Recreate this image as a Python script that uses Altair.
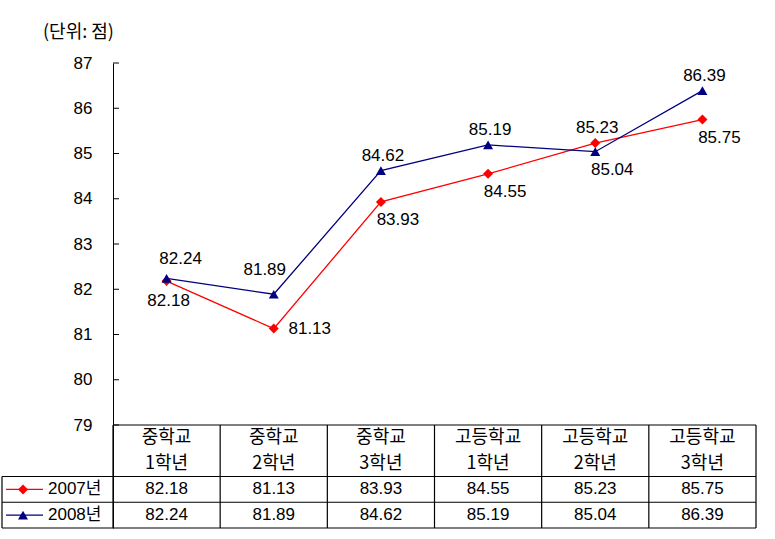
import altair as alt
import pandas as pd

# ---------------- data ----------------
CAT_LINE1 = ["중학교", "중학교", "중학교", "고등학교", "고등학교", "고등학교"]
CAT_LINE2 = ["1학년", "2학년", "3학년", "1학년", "2학년", "3학년"]
SERIES = ["2007년", "2008년"]
VALUES_2007 = [82.18, 81.13, 83.93, 84.55, 85.23, 85.75]
VALUES_2008 = [82.24, 81.89, 84.62, 85.19, 85.04, 86.39]
Y_TICKS = [79, 80, 81, 82, 83, 84, 85, 86, 87]
UNIT_TEXT = "(단위: 점)"

# label placement (style) for each point
LABEL_PLACE_2007 = ["below", "right", "below-right", "below-right", "above", "below-right"]
LABEL_PLACE_2008 = ["above-right", "above-left", "above", "above", "below-right", "above"]
PLACE_OFFSETS = {
    "above": (2, -15),
    "above-right": (14, -19),
    "above-left": (-9, -24),
    "below": (2, 20),
    "below-right": (17, 18),
    "right": (36, 0),
}

COLORS = ["#FF0000", "#000080"]
SHAPES = ["diamond", "triangle-up"]
NUM_FONT = "Liberation Sans, Noto Sans CJK KR"
KO_FONT = "Noto Sans CJK KR"
FS = 17
KO_FS = 18

# ---------------- layout ----------------
W = 643
PLOT_H = 362
TABLE_H = 103
H = PLOT_H + TABLE_H
LEGEND_W = 111
N = len(CAT_LINE1)
COL_W = W / N
Y_MIN, Y_MAX = min(Y_TICKS), max(Y_TICKS)
y_lo = Y_MIN - (Y_MAX - Y_MIN) * TABLE_H / PLOT_H
ROWS = 4  # header (2 lines) + 2 series rows
row_px = TABLE_H / ROWS
t_top = -PLOT_H / row_px
leg_units = LEGEND_W / COL_W

xscale = alt.Scale(domain=[0, N], nice=False, zero=False)
vscale = alt.Scale(domain=[y_lo, Y_MAX], nice=False, zero=False)
tscale = alt.Scale(domain=[t_top, ROWS], nice=False, zero=False, reverse=True)
cscale = alt.Scale(domain=SERIES, range=COLORS)
sscale = alt.Scale(domain=SERIES, range=SHAPES)

# ---------------- line chart part ----------------
pts = pd.DataFrame({
    "x": [i + 0.5 for i in range(N)] * 2,
    "value": VALUES_2007 + VALUES_2008,
    "series": [SERIES[0]] * N + [SERIES[1]] * N,
    "place": LABEL_PLACE_2007 + LABEL_PLACE_2008,
})

base = alt.Chart(pts).encode(
    x=alt.X("x:Q", scale=xscale, axis=None),
    y=alt.Y("value:Q", scale=vscale, title=None,
            axis=alt.Axis(values=Y_TICKS, grid=False, ticks=False, tickSize=0,
                          labelPadding=21, labelFont=NUM_FONT, labelFontSize=FS,
                          labelColor="black", domainColor="black", domainWidth=1)),
)

lines = base.mark_line(strokeWidth=1.3).encode(
    color=alt.Color("series:N", scale=cscale, legend=None),
    detail="series:N",
)
points = base.mark_point(filled=True, opacity=1, size=100).encode(
    color=alt.Color("series:N", scale=cscale, legend=None),
    shape=alt.Shape("series:N", scale=sscale, legend=None),
)

label_layers = []
for name, (dx, dy) in PLACE_OFFSETS.items():
    label_layers.append(
        base.transform_filter(alt.datum.place == name)
        .mark_text(dx=dx, dy=dy, font=NUM_FONT, fontSize=FS, color="black",
                   baseline="middle", align="center")
        .encode(text=alt.Text("value:Q", format=".2f"))
    )

tick_df = pd.DataFrame({"value": Y_TICKS})
inner_ticks = alt.Chart(tick_df).mark_rule(color="black", strokeWidth=1).encode(
    y=alt.Y("value:Q", scale=vscale),
    x=alt.value(0), x2=alt.value(6),
)

unit_title = alt.Chart(pd.DataFrame({"t": [UNIT_TEXT]})).mark_text(
    align="left", baseline="middle", font=KO_FONT, fontSize=KO_FS, color="black"
).encode(text="t:N", x=alt.value(-70), y=alt.value(-30))

value_part = alt.layer(lines, points, *label_layers, inner_ticks, unit_title)

# ---------------- data table part ----------------
seg = []
seg.append({"x": 0, "x2": N, "y": 0, "y2": 0})
for r in [2, 3, 4]:
    seg.append({"x": -leg_units, "x2": N, "y": r, "y2": r})
for c in range(N + 1):
    seg.append({"x": c, "x2": c, "y": 0, "y2": ROWS})
seg.append({"x": -leg_units, "x2": -leg_units, "y": 2, "y2": ROWS})
grid = alt.Chart(pd.DataFrame(seg)).mark_rule(color="black", strokeWidth=1.2).encode(
    x=alt.X("x:Q", scale=xscale, axis=None),
    x2="x2:Q",
    y=alt.Y("y:Q", scale=tscale, axis=None),
    y2="y2:Q",
)

head = []
for i in range(N):
    head.append({"x": i + 0.5, "y": 0.5, "t": CAT_LINE1[i]})
    head.append({"x": i + 0.5, "y": 1.5, "t": CAT_LINE2[i]})
head_text = alt.Chart(pd.DataFrame(head)).mark_text(
    font=KO_FONT, fontSize=KO_FS, color="black", baseline="middle", align="center"
).encode(
    x=alt.X("x:Q", scale=xscale, axis=None),
    y=alt.Y("y:Q", scale=tscale, axis=None),
    text="t:N",
)

cells = []
for i in range(N):
    cells.append({"x": i + 0.5, "y": 2.5, "t": f"{VALUES_2007[i]:.2f}"})
    cells.append({"x": i + 0.5, "y": 3.5, "t": f"{VALUES_2008[i]:.2f}"})
cell_text = alt.Chart(pd.DataFrame(cells)).mark_text(
    font=NUM_FONT, fontSize=FS, color="black", baseline="middle", align="center"
).encode(
    x=alt.X("x:Q", scale=xscale, axis=None),
    y=alt.Y("y:Q", scale=tscale, axis=None),
    text="t:N",
)

leg_df = pd.DataFrame({"series": SERIES, "y": [2.5, 3.5]})
leg_base = alt.Chart(leg_df).encode(y=alt.Y("y:Q", scale=tscale, axis=None))
leg_line = leg_base.mark_rule(strokeWidth=1.3).encode(
    x=alt.value(-LEGEND_W + 4), x2=alt.value(-LEGEND_W + 41),
    color=alt.Color("series:N", scale=cscale, legend=None),
)
leg_pt = leg_base.mark_point(filled=True, opacity=1, size=100).encode(
    x=alt.value(-LEGEND_W + 21),
    color=alt.Color("series:N", scale=cscale, legend=None),
    shape=alt.Shape("series:N", scale=sscale, legend=None),
)
leg_txt = leg_base.mark_text(
    font=NUM_FONT, fontSize=FS, color="black", baseline="middle", align="left"
).encode(x=alt.value(-LEGEND_W + 46), text="series:N")

table_part = alt.layer(grid, head_text, cell_text, leg_line, leg_pt, leg_txt)

chart = alt.layer(value_part, table_part).resolve_scale(y="independent").properties(
    width=W, height=H,
    padding={"left": 113, "top": 63, "right": 775 - 113 - W, "bottom": 539 - 63 - H},
    autosize=alt.AutoSizeParams(type="none"),
    background="white",
).configure_view(stroke=None)

chart.save("out.html", embed_options={"renderer": "svg", "actions": False})
